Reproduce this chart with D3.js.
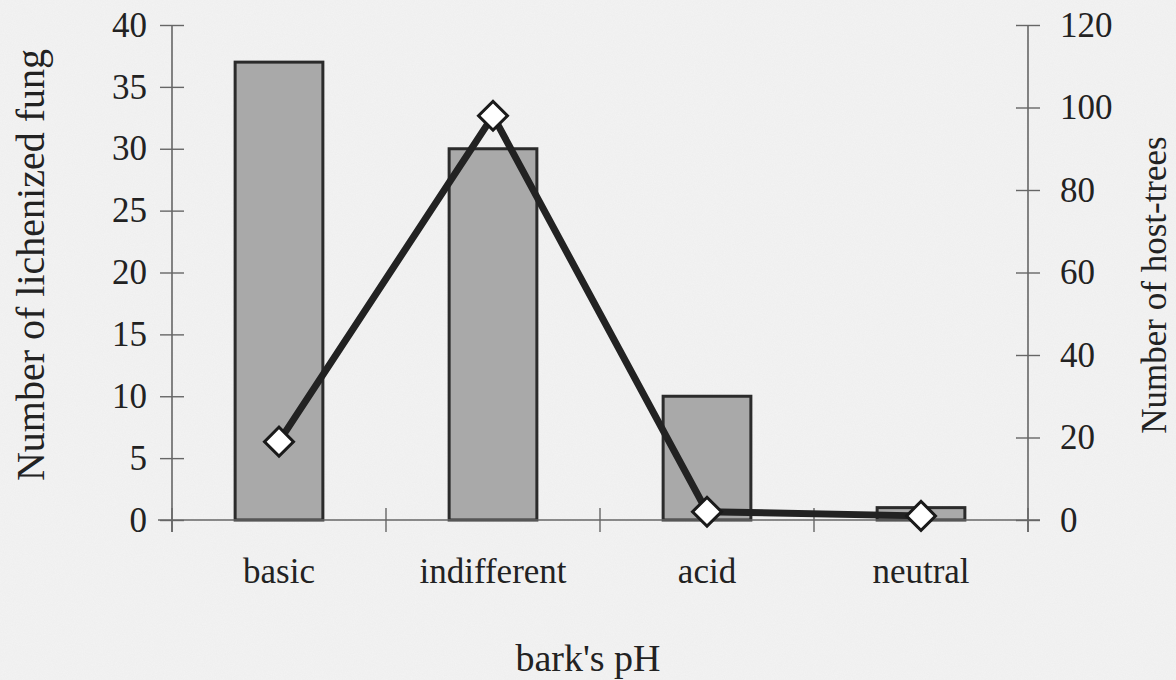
<!DOCTYPE html>
<html>
<head>
<meta charset="utf-8">
<script src="https://cdn.jsdelivr.net/npm/d3@7"></script>
<style>
  html, body { margin: 0; padding: 0; background: #f0f0f0; }
  svg { display: block; font-family: "Liberation Serif", "Times New Roman", serif; }
</style>
</head>
<body>
<div id="chart"></div>
<script>
// Data
const categories = ["basic", "indifferent", "acid", "neutral"];
const fungiCounts = [37, 30, 10, 1];      // bars, left axis
const hostTrees = [19, 98, 2, 1];         // line, right axis
const leftTicks = [0, 5, 10, 15, 20, 25, 30, 35, 40];
const rightTicks = [0, 20, 40, 60, 80, 100, 120];

const width = 1176;
const height = 680;
const margin = { left: 172, right: 148, top: 25, bottom: 160 };

const svg = d3.select("#chart")
    .append("svg")
    .attr("width", width)
    .attr("height", height);

// grainy paper background
const defs = svg.append("defs");
const grain = defs.append("filter").attr("id", "grain");
grain.append("feTurbulence")
    .attr("type", "fractalNoise")
    .attr("baseFrequency", 0.9)
    .attr("numOctaves", 2)
    .attr("seed", 3);
grain.append("feColorMatrix")
    .attr("type", "matrix")
    .attr("values", "0 0 0 0 0.5  0 0 0 0 0.5  0 0 0 0 0.5  0 0 0 0.15 0");

svg.append("rect").attr("width", width).attr("height", height).attr("fill", "#f3f3f3");
svg.append("rect").attr("width", width).attr("height", height).attr("filter", "url(#grain)").attr("opacity", 0.6);

// Scales
const x = d3.scaleBand()
    .domain(categories)
    .range([margin.left, width - margin.right])
    .paddingInner(0.59)
    .paddingOuter(0.295);

const yLeft = d3.scaleLinear()
    .domain([0, 40])
    .range([height - margin.bottom, margin.top]);

const yRight = d3.scaleLinear()
    .domain([0, 120])
    .range([height - margin.bottom, margin.top]);

const axisColor = "#666";

// Bars
svg.selectAll("rect.bar")
    .data(fungiCounts)
    .enter()
    .append("rect")
    .attr("class", "bar")
    .attr("x", (d, i) => x(categories[i]))
    .attr("y", (d) => yLeft(d))
    .attr("width", x.bandwidth())
    .attr("height", (d) => yLeft(0) - yLeft(d))
    .attr("fill", "#a9a9a9")
    .attr("stroke", "#2b2b2b")
    .attr("stroke-width", 3);

// X axis line and ticks at category boundaries
const x0 = margin.left;
const x1 = width - margin.right;
const step = x.step();
svg.append("line")
    .attr("x1", x0 - 14).attr("x2", x1 + 12)
    .attr("y1", yLeft(0)).attr("y2", yLeft(0))
    .attr("stroke", axisColor).attr("stroke-width", 1.6);

const boundaries = d3.range(categories.length + 1).map((i) => x0 + i * step);
svg.selectAll("line.xtick")
    .data(boundaries)
    .enter()
    .append("line")
    .attr("class", "xtick")
    .attr("x1", (d) => d).attr("x2", (d) => d)
    .attr("y1", yLeft(0) - 12).attr("y2", yLeft(0) + 12)
    .attr("stroke", axisColor).attr("stroke-width", 1.4);

// X labels
const xAxis = d3.axisBottom(x).tickSize(0).tickPadding(0);
const gx = svg.append("g")
    .attr("transform", `translate(0, ${yLeft(0)})`)
    .call(xAxis);
gx.select(".domain").remove();
gx.selectAll("text")
    .attr("y", 63)
    .attr("dy", 0)
    .attr("font-size", 35)
    .attr("font-family", "Liberation Serif")
    .attr("fill", "#222");

// Left axis
const gl = svg.append("g")
    .attr("transform", `translate(${margin.left}, 0)`)
    .call(d3.axisLeft(yLeft).tickValues(leftTicks).tickSize(12).tickPadding(13));
gl.select(".domain").attr("d", `M0,${yLeft(0) + 12}V${yLeft(40)}`).attr("stroke", axisColor).attr("stroke-width", 1.6);
gl.selectAll(".tick line").attr("x1", -12).attr("x2", 12).attr("stroke", axisColor).attr("stroke-width", 1.4);
gl.selectAll(".tick text")
    .attr("font-size", 35)
    .attr("font-family", "Liberation Serif")
    .attr("fill", "#222");

// Right axis
const gr = svg.append("g")
    .attr("transform", `translate(${width - margin.right}, 0)`)
    .call(d3.axisRight(yRight).tickValues(rightTicks).tickSize(12).tickPadding(20));
gr.select(".domain").attr("d", `M0,${yRight(0) + 12}V${yRight(120)}`).attr("stroke", axisColor).attr("stroke-width", 1.6);
gr.selectAll(".tick line").attr("x1", -12).attr("x2", 12).attr("stroke", axisColor).attr("stroke-width", 1.4);
gr.selectAll(".tick text")
    .attr("font-size", 35)
    .attr("font-family", "Liberation Serif")
    .attr("fill", "#222");

// Line for host-trees
const line = d3.line()
    .x((d, i) => x(categories[i]) + x.bandwidth() / 2)
    .y((d) => yRight(d));

svg.append("path")
    .datum(hostTrees)
    .attr("d", line)
    .attr("fill", "none")
    .attr("stroke", "#222")
    .attr("stroke-width", 7)
    .attr("stroke-linejoin", "miter");

// Diamond markers
const diamond = d3.symbol().type(d3.symbolSquare).size(420);
svg.selectAll("path.marker")
    .data(hostTrees)
    .enter()
    .append("path")
    .attr("class", "marker")
    .attr("d", diamond)
    .attr("transform", (d, i) => `translate(${x(categories[i]) + x.bandwidth() / 2}, ${yRight(d)}) rotate(45)`)
    .attr("fill", "#ffffff")
    .attr("stroke", "#1a1a1a")
    .attr("stroke-width", 3);

// Axis titles
svg.append("text")
    .attr("transform", `translate(44, 265) rotate(-90)`)
    .attr("text-anchor", "middle")
    .attr("font-size", 40)
    .attr("fill", "#222")
    .text("Number of lichenized fung");

svg.append("text")
    .attr("transform", `translate(1166, 285) rotate(-90)`)
    .attr("text-anchor", "middle")
    .attr("font-size", 35)
    .attr("fill", "#222")
    .text("Number of host-trees");

svg.append("text")
    .attr("x", 588)
    .attr("y", 671)
    .attr("text-anchor", "middle")
    .attr("font-size", 38)
    .attr("fill", "#222")
    .text("bark's pH");
</script>
</body>
</html>
